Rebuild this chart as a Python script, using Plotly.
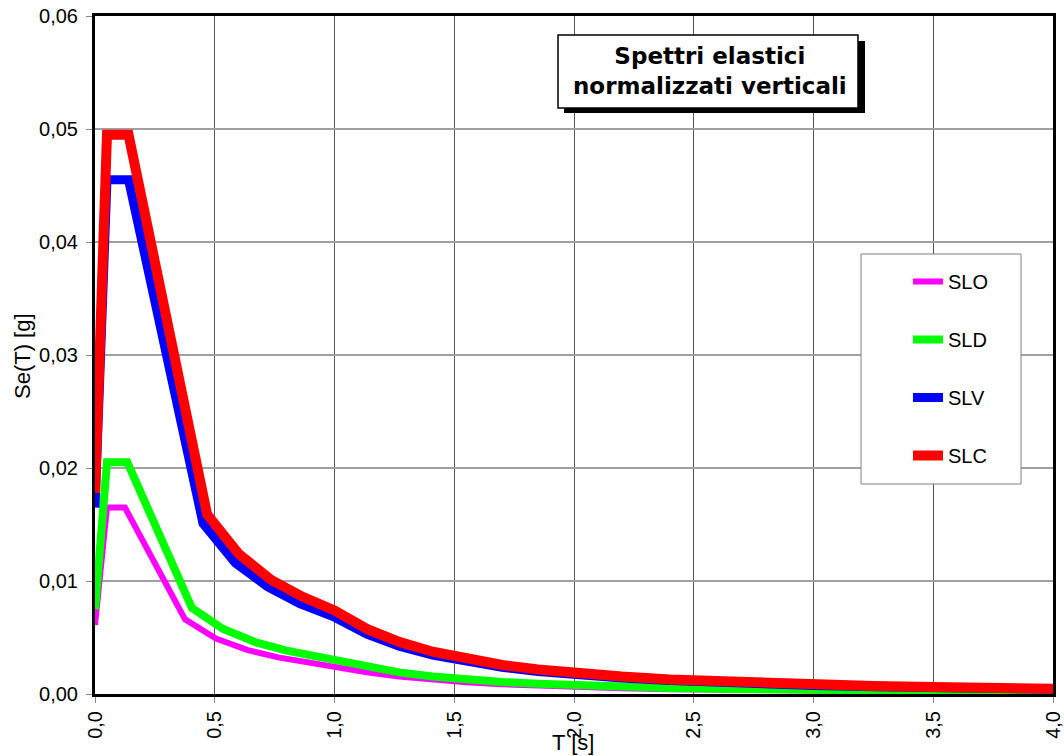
import plotly.graph_objects as go

# ---- data ----
tail_T = [1.135, 1.27, 1.41, 1.55, 1.70, 1.85, 2.0, 2.2, 2.4, 2.6, 2.8, 3.0, 3.25, 3.5, 3.75, 4.0]

slo_T = [0.0, 0.05, 0.125, 0.376, 0.505, 0.635, 0.765, 0.89, 1.0] + tail_T
slo_V = [0.0061, 0.0165, 0.0165, 0.0066, 0.0049, 0.0039, 0.00324, 0.00278, 0.00248,
         0.00193, 0.00154, 0.00125, 0.00103, 0.00086, 0.00072, 0.00062, 0.00051,
         0.00043, 0.00037, 0.00032, 0.00028, 0.00023, 0.00020, 0.00018, 0.00016]

sld_T = [0.0, 0.05, 0.135, 0.405, 0.535, 0.668, 0.80, 0.935, 1.0] + tail_T
sld_V = [0.0075, 0.0205, 0.0205, 0.0076, 0.00575, 0.0046, 0.00384, 0.00329, 0.00308,
         0.00239, 0.00191, 0.00155, 0.00128, 0.00107, 0.00090, 0.00077, 0.00064,
         0.00053, 0.00046, 0.00039, 0.00034, 0.00029, 0.00025, 0.00022, 0.00019]

slv_T = [0.0, 0.05, 0.14, 0.451, 0.586, 0.72, 0.855, 1.0] + tail_T
slv_V = [0.0165, 0.0455, 0.0455, 0.0151, 0.0116, 0.0095, 0.0080, 0.0068,
         0.00530, 0.00423, 0.00344, 0.00284, 0.00236, 0.00200, 0.00171, 0.00141,
         0.00119, 0.00101, 0.00087, 0.00076, 0.00065, 0.00056, 0.00049, 0.00043]

slc_T = [0.0, 0.05, 0.14, 0.468, 0.60, 0.735, 0.867, 1.0] + tail_T
slc_V = [0.0178, 0.0495, 0.0495, 0.0159, 0.0124, 0.0101, 0.0086, 0.0074,
         0.00576, 0.00461, 0.00374, 0.00309, 0.00257, 0.00217, 0.00186, 0.00154,
         0.00129, 0.00110, 0.00095, 0.00083, 0.00070, 0.00061, 0.00053, 0.00046]

series_names = ["SLO", "SLD", "SLV", "SLC"]
series_T = [slo_T, sld_T, slv_T, slc_T]
series_V = [slo_V, sld_V, slv_V, slc_V]
colors = ["#FF00FF", "#00FF00", "#0000FF", "#FF0000"]
widths = [6, 8, 9, 10]

x_tick_vals = [0.0, 0.5, 1.0, 1.5, 2.0, 2.5, 3.0, 3.5, 4.0]
y_tick_vals = [0.00, 0.01, 0.02, 0.03, 0.04, 0.05, 0.06]

title_text = "<b>Spettri elastici<br>normalizzati verticali</b>"
x_title = "T [s]"
y_title = "Se(T) [g]"

# ---- layout geometry (pixels) ----
W, H = 1064, 756
L, R, T, B = 95, 1053, 16, 694


def px(xp):
    return (xp - L) / (R - L)


def py(yp):
    return (B - yp) / (B - T)


fig = go.Figure()
for name, xs, ys, c, w in zip(series_names, series_T, series_V, colors, widths):
    fig.add_trace(go.Scatter(x=xs, y=ys, mode="lines", name=name, legendgroup=name,
                             line=dict(color=c, width=w)))

font_family = "Liberation Sans, Arial, sans-serif"

fig.update_layout(
    width=W, height=H,
    margin=dict(l=L, r=W - R, t=T, b=H - B, pad=0, autoexpand=False),
    plot_bgcolor="white", paper_bgcolor="white",
    separators=",.",
    font=dict(family=font_family, size=20, color="black"),
    showlegend=True,
    legend=dict(x=px(908), y=py(262), xanchor="left", yanchor="top",
                bgcolor="rgba(0,0,0,0)", borderwidth=0,
                font=dict(family=font_family, size=20, color="black"),
                traceorder="grouped", tracegroupgap=29),
    xaxis=dict(range=[0, 4], tickvals=x_tick_vals, tickformat=".1f", tickangle=-90,
               automargin=False,
               showgrid=True, gridcolor="#555555", gridwidth=1, zeroline=False,
               showline=True, linecolor="black", linewidth=3, mirror=True,
               ticks="outside", ticklen=6, tickcolor="#888888",
               tickfont=dict(family=font_family, size=20)),
    yaxis=dict(range=[0, 0.06], tickvals=y_tick_vals, tickformat=".2f",
               automargin=False, ticklabelstandoff=4,
               showgrid=True, gridcolor="#A0A0A0", gridwidth=2, zeroline=False,
               showline=True, linecolor="black", linewidth=3, mirror=True,
               ticks="outside", ticklen=6, tickcolor="#888888",
               tickfont=dict(family=font_family, size=20)),
    shapes=[
        # title box shadow + box
        dict(type="rect", xref="paper", yref="paper", layer="above",
             x0=px(564), x1=px(865), y0=py(113), y1=py(41),
             fillcolor="black", line=dict(width=0)),
        dict(type="rect", xref="paper", yref="paper", layer="above",
             x0=px(558), x1=px(858), y0=py(108), y1=py(35),
             fillcolor="white", line=dict(color="black", width=1.5)),
        # legend frame
        dict(type="rect", xref="paper", yref="paper", layer="above",
             x0=px(861), x1=px(1021), y0=py(484), y1=py(254),
             fillcolor="white", line=dict(color="#808080", width=1)),
    ],
    annotations=[
        dict(text=title_text, xref="paper", yref="paper", x=px(710), y=py(71),
             xanchor="center", yanchor="middle", showarrow=False, align="center",
             font=dict(family="DejaVu Sans, Verdana, sans-serif", size=23, color="black")),
        dict(text=y_title, xref="paper", yref="paper", x=px(22), y=py(356),
             xanchor="center", yanchor="middle", showarrow=False, textangle=-90,
             font=dict(family=font_family, size=22, color="black")),
        dict(text=x_title, xref="paper", yref="paper", x=px(573), y=py(742),
             xanchor="center", yanchor="middle", showarrow=False,
             font=dict(family=font_family, size=22, color="black")),
    ],
)

fig.write_html(
    "out.html",
    config={"displayModeBar": False},
    post_script="document.body.style.margin='0px';document.body.style.padding='0px';"
                "document.body.style.overflow='hidden';",
)
